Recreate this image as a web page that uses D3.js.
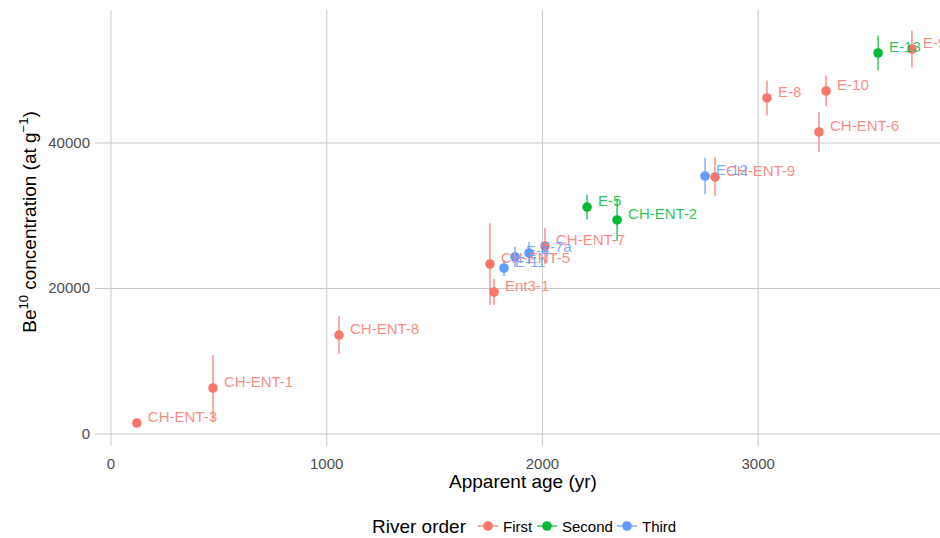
<!DOCTYPE html>
<html>
<head>
<meta charset="utf-8">
<script src="https://cdn.jsdelivr.net/npm/d3@7"></script>
<style>
  body { margin: 0; background: #fff; }
  svg { font-family: "Liberation Sans", Arial, sans-serif; }
</style>
</head>
<body>
<svg id="chart" width="940" height="538"></svg>
<script>
// samples
const names = ["CH-ENT-3", "CH-ENT-1", "CH-ENT-8", "Ent3-1", "CH-ENT-5", "CH-ENT-7", "CH-ENT-9",
               "E-8", "E-10", "CH-ENT-6", "E-9",
               "E-5", "CH-ENT-2", "E-13",
               "E-11", "E-4", "E-7a", "E-12"];
const order = ["First", "First", "First", "First", "First", "First", "First",
               "First", "First", "First", "First",
               "Second", "Second", "Second",
               "Third", "Third", "Third", "Third"];
const age = [120, 473, 1057, 1776, 1757, 2012, 2800,
             3041, 3315, 3282, 3713,
             2207, 2346, 3556,
             1822, 1873, 1938, 2754];
const conc = [1510, 6320, 13600, 19520, 23370, 25840, 35330,
              46190, 47150, 41510, 52920,
              31200, 29420, 52370,
              22820, 24330, 24880, 35460];
const err = [300, 4500, 2600, 1800, 5600, 2500, 2700,
             2400, 2130, 2750, 2540,
             1700, 2900, 2400,
             1100, 1400, 1500, 2500];
const orders = ["First", "Second", "Third"];
const xTicks = [0, 1000, 2000, 3000];
const yTicks = [0, 20000, 40000];

const data = names.map((n, i) => ({name: n, order: order[i], x: age[i], y: conc[i], e: err[i]}));

const svg = d3.select("#chart");
const pLeft = 95, pRight = 951, pTop = 10, pBottom = 446;

const x = d3.scaleLinear().domain([-74, 3894]).range([pLeft, pRight]);
const y = d3.scaleLinear().domain([-1650, 58282]).range([pBottom, pTop]);
const color = d3.scaleOrdinal().domain(orders).range(["#F8766D", "#00BA38", "#619CFF"]);

// grid
svg.append("g").selectAll("line").data(xTicks).join("line")
    .attr("x1", d => x(d)).attr("x2", d => x(d))
    .attr("y1", pTop).attr("y2", pBottom)
    .attr("stroke", "#c8c8c8").attr("stroke-width", 1);
svg.append("g").selectAll("line").data(yTicks).join("line")
    .attr("x1", pLeft).attr("x2", pRight)
    .attr("y1", d => y(d)).attr("y2", d => y(d))
    .attr("stroke", "#c8c8c8").attr("stroke-width", 1);

// tick labels
svg.append("g").selectAll("text").data(xTicks).join("text")
    .attr("x", d => x(d)).attr("y", 469)
    .attr("text-anchor", "middle")
    .attr("font-size", 15).attr("fill", "#4d4d4d")
    .text(d => d);
svg.append("g").selectAll("text").data(yTicks).join("text")
    .attr("x", 90).attr("y", d => y(d) + 5)
    .attr("text-anchor", "end")
    .attr("font-size", 15).attr("fill", "#4d4d4d")
    .text(d => d);

// axis titles
svg.append("text")
    .attr("x", 523).attr("y", 488)
    .attr("text-anchor", "middle")
    .attr("font-size", 19).attr("fill", "#000")
    .text("Apparent age (yr)");

const yt = svg.append("text")
    .attr("transform", "translate(36,222) rotate(-90)")
    .attr("text-anchor", "middle")
    .attr("font-size", 19).attr("fill", "#000");
yt.append("tspan").text("Be");
yt.append("tspan").attr("font-size", 13).attr("dy", -8).text("10");
yt.append("tspan").attr("dy", 8).text(" concentration (at g");
yt.append("tspan").attr("font-size", 13).attr("dy", -8).text("\u22121");
yt.append("tspan").attr("dy", 8).text(")");

// error bars
svg.append("g").selectAll("line").data(data).join("line")
    .attr("x1", d => x(d.x)).attr("x2", d => x(d.x))
    .attr("y1", d => y(d.y - d.e)).attr("y2", d => y(d.y + d.e))
    .attr("stroke", d => color(d.order)).attr("stroke-width", 1.2);

// points
svg.append("g").selectAll("circle").data(data).join("circle")
    .attr("cx", d => x(d.x)).attr("cy", d => y(d.y))
    .attr("r", 4.8)
    .attr("fill", d => color(d.order));

// labels
svg.append("g").selectAll("text").data(data).join("text")
    .attr("x", d => x(d.x) + 11).attr("y", d => y(d.y) - 1)
    .attr("font-size", 15)
    .attr("fill", d => color(d.order))
    .attr("fill-opacity", 0.85)
    .text(d => d.name);

// legend
const lg = svg.append("g");
lg.append("text").attr("x", 372).attr("y", 533)
    .attr("font-size", 19).attr("fill", "#000").text("River order");
const keyX = [478, 537, 617];
const item = lg.selectAll("g.key").data(orders).join("g").attr("class", "key")
    .attr("transform", (d, i) => `translate(${keyX[i]},526)`);
item.append("line").attr("x1", 0).attr("x2", 20).attr("y1", 0).attr("y2", 0)
    .attr("stroke", d => color(d)).attr("stroke-width", 1.2);
item.append("circle").attr("cx", 10).attr("cy", 0).attr("r", 4.8).attr("fill", d => color(d));
item.append("text").attr("x", 25).attr("y", 5.5)
    .attr("font-size", 15).attr("fill", "#000").text(d => d);
</script>
</body>
</html>
